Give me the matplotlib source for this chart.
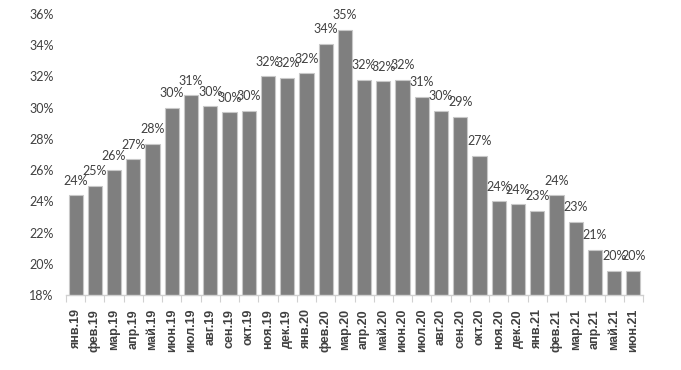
import matplotlib.pyplot as plt
import numpy as np

months = ['янв.19', 'фев.19', 'мар.19', 'апр.19', 'май.19', 'июн.19', 'июл.19',
          'авг.19', 'сен.19', 'окт.19', 'ноя.19', 'дек.19', 'янв.20', 'фев.20',
          'мар.20', 'апр.20', 'май.20', 'июн.20', 'июл.20', 'авг.20', 'сен.20',
          'окт.20', 'ноя.20', 'дек.20', 'янв.21', 'фев.21', 'мар.21', 'апр.21',
          'май.21', 'июн.21']
values = [24.4, 25.0, 26.0, 26.7, 27.7, 30.0, 30.8, 30.1, 29.7, 29.8, 32.0,
          31.9, 32.2, 34.1, 35.0, 31.8, 31.7, 31.8, 30.7, 29.8, 29.4, 26.9,
          24.0, 23.8, 23.4, 24.4, 22.7, 20.9, 19.55, 19.55]

label_font = ['Lato', 'DejaVu Sans']

fig = plt.figure(figsize=(6.81, 3.70), dpi=100)
ax = fig.add_axes([66 / 681, 1 - 295 / 370, (643 - 66) / 681, (295 - 14) / 370])

x = np.arange(len(months))
ax.bar(x, values, width=0.74, color='#7f7f7f', edgecolor='#c8c8c8',
       linewidth=0.8)

for xi, v in zip(x, values):
    ax.text(xi, v + 0.55, f'{round(v):.0f}%', ha='center', va='bottom',
            fontsize=9, color='#404040', family=label_font)

ax.set_ylim(18, 36)
ax.set_xlim(-0.5, len(months) - 0.5)
ax.set_yticks(range(18, 37, 2))
ax.set_yticklabels([f'{t}%' for t in range(18, 37, 2)], family=label_font,
                   fontsize=9, color='#404040')
ax.tick_params(axis='y', length=0, pad=9)

ax.set_xticks(x)
ax.set_xticklabels(months, rotation=90, fontsize=9, fontweight='bold',
                   color='#404040', family=['Liberation Sans', 'DejaVu Sans'])
ax.set_xticks(np.arange(-0.5, len(months), 1), minor=True)
ax.tick_params(axis='x', which='major', length=0, pad=10)
ax.tick_params(axis='x', which='minor', length=5, color='#d0d0d0', width=0.8)

for s in ['top', 'right', 'left']:
    ax.spines[s].set_visible(False)
ax.spines['bottom'].set_color('#d0d0d0')
ax.spines['bottom'].set_linewidth(1.0)

fig.savefig('out.png', dpi=100)
